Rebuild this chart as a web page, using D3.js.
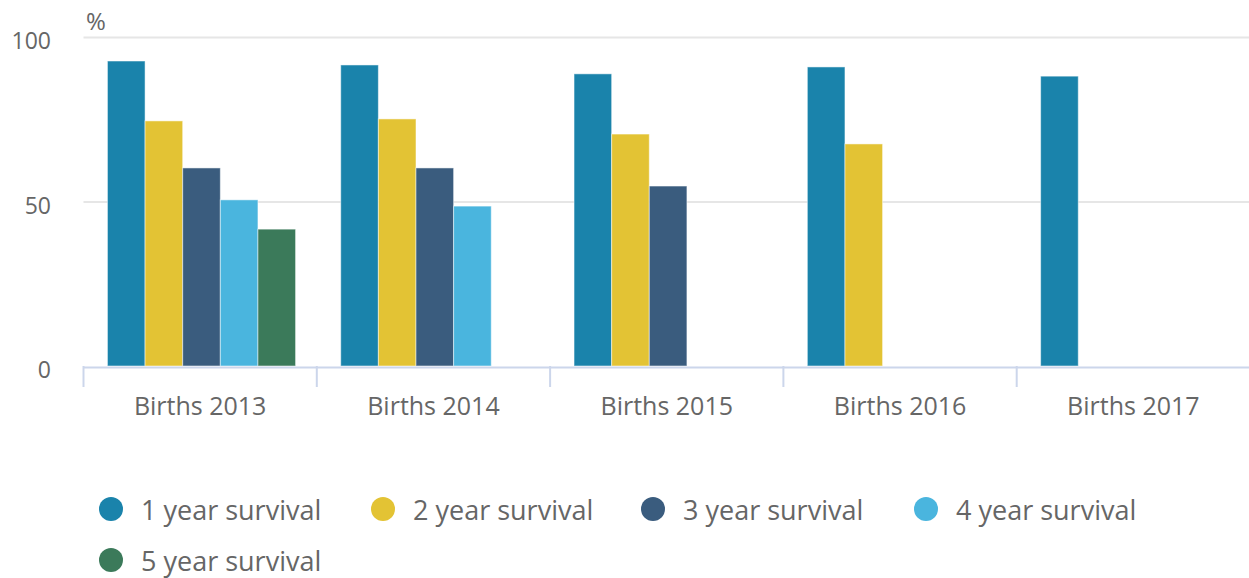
<!DOCTYPE html>
<html>
<head>
<meta charset="utf-8">
<script src="https://cdn.jsdelivr.net/npm/d3@7"></script>
<style>
  body { margin: 0; background: #fff; }
  svg { font-family: "Open Sans", sans-serif; }
</style>
</head>
<body>
<div id="app"></div>
<script>
const WIDTH = 1249;
const HEIGHT = 578;

const categories = ['Births 2013', 'Births 2014', 'Births 2015', 'Births 2016', 'Births 2017'];
const seriesNames = ['1 year survival', '2 year survival', '3 year survival', '4 year survival', '5 year survival'];
const colors = ['#1a83ab', '#e3c334', '#3a5c7e', '#4ab5de', '#3b7a5a'];

// one value per category, null where the series has no data yet
const oneYear = [92.7, 91.5, 88.8, 90.9, 88.1];
const twoYear = [74.5, 75.1, 70.5, 67.5, null];
const threeYear = [60.2, 60.2, 54.7, null, null];
const fourYear = [50.5, 48.6, null, null, null];
const fiveYear = [41.6, null, null, null, null];
const yTicks = [0, 50, 100];

const series = [oneYear, twoYear, threeYear, fourYear, fiveYear];

const plot = { left: 83.5, right: 1250, top: 37, bottom: 366 };

const svg = d3.select('#app')
  .append('svg')
    .attr('width', WIDTH)
    .attr('height', HEIGHT);

const x = d3.scaleBand()
  .domain(categories)
  .range([plot.left, plot.right]);

const x1 = d3.scaleBand()
  .domain(d3.range(seriesNames.length))
  .range([0, x.bandwidth()])
  .paddingOuter(0.6)
  .align(0.53);

const y = d3.scaleLinear()
  .domain([0, 100])
  .range([plot.bottom, plot.top]);

// grid
svg.append('g')
  .selectAll('line')
  .data(yTicks.filter(t => t > 0))
  .enter()
    .append('line')
    .attr('x1', plot.left)
    .attr('x2', WIDTH)
    .attr('y1', d => y(d) + 0.5)
    .attr('y2', d => y(d) + 0.5)
    .attr('stroke', '#e6e6e6')
    .attr('stroke-width', 2);

// y labels
svg.append('g')
  .selectAll('text')
  .data(yTicks)
  .enter()
    .append('text')
    .attr('x', 51)
    .attr('y', d => y(d) + 12)
    .attr('text-anchor', 'end')
    .attr('fill', '#666')
    .attr('font-size', 23)
    .text(d => d);

svg.append('text')
  .attr('x', 86)
  .attr('y', 30)
  .attr('fill', '#666')
  .attr('font-size', 24)
  .text('%');

// bars
const groups = svg.append('g')
  .selectAll('g')
  .data(series)
  .enter()
    .append('g')
    .attr('fill', (d, i) => colors[i]);

groups.selectAll('rect')
  .data((d, i) => d.map((v, j) => ({ v, cat: categories[j], s: i })).filter(o => o.v != null))
  .enter()
    .append('rect')
    .attr('x', d => x(d.cat) + x1(d.s))
    .attr('width', x1.bandwidth())
    .attr('y', d => y(d.v))
    .attr('height', d => y(0) - y(d.v))
    .attr('stroke', '#fff')
    .attr('stroke-opacity', 0.5)
    .attr('stroke-width', 1);

// x axis
const axis = d3.axisBottom(x).tickSize(0);
const gx = svg.append('g')
  .attr('transform', `translate(0, ${plot.bottom + 1})`)
  .call(axis);
gx.select('.domain')
  .attr('stroke', '#ccd6eb')
  .attr('stroke-width', 2);
gx.selectAll('text')
  .attr('y', 48)
  .attr('dy', 0)
  .attr('fill', '#666')
  .attr('font-size', 25)
  .attr('font-family', '"Open Sans", sans-serif');

svg.append('g')
  .selectAll('line')
  .data(categories)
  .enter()
    .append('line')
    .attr('x1', d => x(d))
    .attr('x2', d => x(d))
    .attr('y1', plot.bottom)
    .attr('y2', plot.bottom + 21)
    .attr('stroke', '#ccd6eb')
    .attr('stroke-width', 2);

// legend
const legendPos = [[111, 509], [383, 509], [653, 509], [926, 509], [111, 560]];
const legend = svg.append('g')
  .selectAll('g')
  .data(seriesNames)
  .enter()
    .append('g')
    .attr('transform', (d, i) => `translate(${legendPos[i][0]}, ${legendPos[i][1]})`);

legend.append('circle')
  .attr('r', 12)
  .attr('fill', (d, i) => colors[i]);

legend.append('text')
  .attr('x', 30)
  .attr('y', 11)
  .attr('fill', '#666')
  .attr('font-size', 27)
  .text(d => d);
</script>
</body>
</html>
